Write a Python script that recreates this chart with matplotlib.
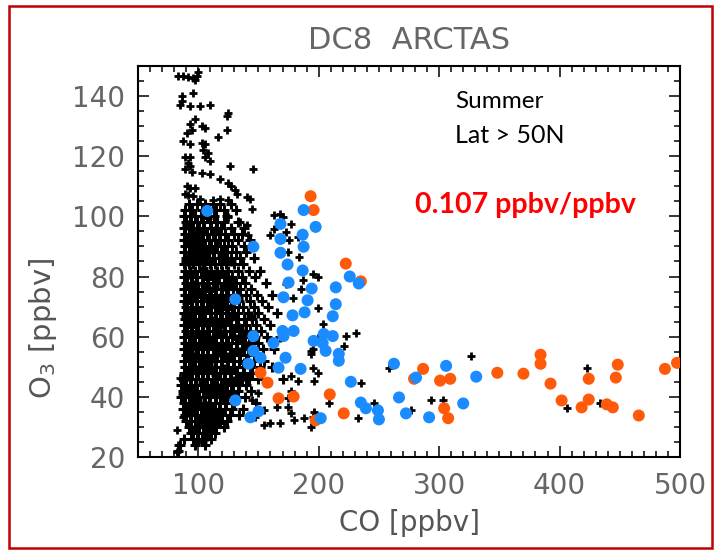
import numpy as np
import matplotlib
matplotlib.use("Agg")
import matplotlib.pyplot as plt
from matplotlib.patches import Rectangle
from matplotlib.ticker import MultipleLocator

# dense core of black points: (O3, list of CO values in that row)
core_rows = [
    (104, [92, 99, 106, 112, 118, 127]),
    (102, [89, 95, 103, 109, 115, 121, 131]),
    (100, [88, 93, 97, 102, 108, 113, 124]),
    (98, [90, 94, 99, 104, 110, 116, 121, 133]),
    (96, [88, 92, 96, 101, 105, 111, 115, 119, 127, 138]),
    (94, [89, 93, 98, 103, 107, 112, 117, 122, 130, 136]),
    (92, [88, 91, 95, 100, 104, 109, 114, 118, 125, 133, 143]),
    (90, [89, 93, 97, 102, 106, 111, 116, 121, 128, 138]),
    (88, [88, 92, 96, 100, 105, 109, 113, 119, 124, 131, 140]),
    (86, [90, 94, 98, 103, 107, 112, 117, 121, 127, 135, 146]),
    (84, [88, 92, 96, 101, 105, 110, 114, 119, 123, 130, 137]),
    (82, [89, 93, 97, 102, 106, 111, 116, 120, 125, 133, 142, 151]),
    (80, [88, 91, 95, 99, 104, 108, 113, 117, 122, 128, 136, 147]),
    (78, [90, 94, 98, 103, 107, 112, 116, 121, 126, 131, 139, 156]),
    (76, [88, 92, 96, 100, 105, 109, 114, 119, 123, 129, 135, 144]),
    (74, [89, 93, 97, 102, 106, 111, 115, 120, 125, 132, 140, 149, 161]),
    (72, [88, 91, 95, 99, 104, 108, 113, 117, 122, 127, 134, 143, 153]),
    (70, [90, 94, 98, 102, 107, 111, 116, 120, 124, 130, 137, 146, 158]),
    (68, [88, 92, 96, 101, 105, 110, 114, 118, 123, 128, 133, 141, 150, 165]),
    (66, [89, 93, 97, 102, 106, 111, 115, 120, 125, 131, 138, 145, 155]),
    (64, [88, 91, 95, 100, 104, 109, 113, 118, 122, 127, 133, 140, 148, 160]),
    (62, [90, 94, 98, 103, 107, 112, 116, 121, 126, 130, 136, 143, 152]),
    (60, [88, 92, 96, 101, 105, 109, 114, 119, 123, 128, 134, 139, 147, 157, 168]),
    (58, [89, 93, 97, 102, 106, 111, 115, 120, 125, 131, 136, 142, 150]),
    (56, [88, 91, 95, 100, 104, 108, 113, 117, 122, 127, 132, 138, 145, 154, 163]),
    (54, [90, 94, 98, 103, 107, 112, 116, 121, 126, 130, 135, 141, 148]),
    (52, [88, 92, 96, 101, 105, 110, 114, 119, 124, 129, 134, 140, 146, 155]),
    (50, [89, 93, 97, 102, 106, 111, 115, 120, 125, 130, 137, 143, 151, 161]),
    (48, [88, 91, 95, 100, 104, 108, 113, 118, 122, 127, 132, 138, 145]),
    (46, [87, 90, 94, 98, 103, 107, 112, 116, 121, 126, 131, 136, 142, 150, 170]),
    (44, [86, 89, 93, 97, 102, 106, 111, 115, 119, 124, 129, 134, 140]),
    (42, [87, 91, 95, 99, 104, 108, 113, 117, 121, 127, 133, 144]),
    (40, [86, 89, 93, 97, 101, 106, 110, 115, 119, 124, 131, 139]),
    (38, [88, 92, 96, 100, 105, 109, 114, 118, 123, 130, 148]),
    (36, [87, 91, 95, 99, 103, 108, 112, 117, 122, 128, 137]),
    (34, [89, 93, 97, 102, 106, 111, 115, 120, 126, 134]),
    (32, [90, 94, 99, 103, 108, 112, 117, 124]),
    (30, [92, 97, 101, 106, 110, 115, 121]),
    (28, [94, 99, 104, 109, 114]),
    (26, [88, 96, 103, 111]),
    (24, [85, 97, 106]),
    (22, [83]),
]

# in-between points of the core, breaking up the rows
core_fill = [
    (91, 97.2), (100, 95.1), (107, 99.3), (95, 91.0), (110, 89.3), (120, 87.1),
    (90, 85.2), (104, 83.0), (116, 81.2), (126, 79.0), (97, 77.1), (110, 75.2),
    (118, 73.0), (91, 71.1), (103, 69.3), (128, 67.0), (113, 65.2), (95, 63.1),
    (120, 61.0), (131, 59.2), (107, 57.1), (92, 55.0), (125, 53.2), (138, 51.1),
    (100, 49.0), (115, 47.1), (129, 45.2), (94, 43.0), (110, 41.1), (121, 39.2),
    (98, 37.0), (113, 35.1), (104, 33.0), (118, 31.2), (96, 29.1), (107, 27.0),
    (134, 63.0), (141, 57.0), (137, 47.0), (127, 85.0), (133, 73.0), (144, 67.0),
    (98, 93.0), (114, 95.0), (102, 87.1), (93, 81.0), (108, 79.1), (121, 77.0),
    (99, 73.1), (114, 71.0), (125, 69.1), (90, 67.0), (106, 65.0), (117, 63.2),
    (100, 61.1), (111, 59.0), (96, 53.1), (117, 55.0), (108, 51.0), (121, 49.1),
    (91, 47.0), (104, 45.0), (117, 43.1), (99, 39.1), (108, 37.0), (92, 35.0),
    (101, 31.1), (111, 29.0), (100, 26.1), (128, 41.0), (135, 55.0), (139, 61.0),
]

# scattered black points outside the core (CO, O3)
black_scatter = [
    (83.3, 146.6), (87.5, 146.6), (91.7, 146.3), (95.8, 145.9), (99.2, 146.6),
    (100, 147.9), (97.5, 145.3), (95.8, 141), (86.7, 140), (86.7, 138.3),
    (85, 137), (93.3, 136.7), (101.7, 136.7), (110, 137), (125, 134.4),
    (124.2, 133.4), (97.5, 132.4), (93.3, 130.8), (95, 128.8), (90.8, 127.8),
    (103.3, 130.1), (105.8, 129.5), (124.2, 128.8), (116.7, 126.5), (87.5, 125.2),
    (93.3, 123.9), (103.3, 124.5), (105.8, 123.9), (104.2, 122.2), (108.3, 121.2),
    (105.8, 119.6), (110, 118.3), (89.2, 119.6), (93.3, 119.6), (91.7, 117.9),
    (93.3, 116.9), (89.2, 115.6), (95, 114.6), (103.3, 114.3), (110, 114),
    (126.7, 116.9), (145.8, 115.6), (118.3, 112.3), (125, 111), (127.5, 110),
    (130.8, 108.7), (132.5, 107.4), (90.8, 110), (93.3, 109.3), (97.5, 109.3),
    (89.2, 107.4), (91.7, 107), (95.8, 106.7), (101.7, 105.7), (112.5, 105.4),
    (118.3, 105.7), (125, 105.4), (140.8, 106.4), (143.3, 105.7),
    (145, 102.4), (162.5, 100.4), (168.3, 98.1), (176.7, 97.5), (162.5, 95.8),
    (160, 93.9), (140.8, 97.2), (141.7, 93.9), (135, 98.1), (125, 99.8),
    (168.3, 100.8), (170, 99.8), (172.5, 94.8), (175, 92.2), (182.5, 93.2),
    (174.2, 88.2), (183.3, 86.6), (199.2, 80), (195, 81), (186.7, 79),
    (172.5, 77.4), (178.3, 72.8), (185, 76), (199.2, 69.5), (203.3, 64.2),
    (222.5, 60.2), (230.8, 61.2), (220.8, 56.9), (199.2, 59.6), (193.3, 55.3),
    (195, 49.7), (199.2, 48), (182.5, 45.4), (176.7, 42.1), (174.2, 39.5),
    (165.8, 36.5), (176.7, 34.5), (187.5, 32.9), (179.2, 32.2), (168.3, 31.2),
    (160, 31.2), (154.2, 30.6), (195, 33.2), (208.3, 38.1), (232.5, 32.9),
    (245.8, 37.8), (276.7, 35.5), (293.3, 38.8), (303.3, 38.8), (326.7, 53.6),
    (258.3, 49.7), (235, 44.7), (422.5, 49.7), (405.8, 36.2), (433.3, 38.1),
    (193.3, 29.9), (195.8, 34.8), (150, 41.4), (145, 38.8), (154.2, 35.5),
    (147.5, 33.2), (174.2, 36.5), (176.7, 47), (195.8, 45.4), (193.3, 54.3),
    (195, 55.9), (201.7, 59.2), (85, 46.4), (86.7, 41.1), (87.5, 33.2),
    (82.5, 28.9), (83.3, 24), (82.5, 21.6), (104.2, 25),
]

blue_pts = [
    (107.5, 101.8), (145.8, 89.9), (168.3, 97.5), (168.3, 92.5), (168.3, 87.9),
    (174.2, 84), (187.5, 102.1), (197.5, 96.5), (186.7, 93.9), (187.5, 89.9),
    (186.7, 82), (175, 78), (170.8, 73.1), (225.8, 80), (233.3, 77.7),
    (214.2, 76.4), (214.2, 70.8), (211.7, 66.8), (194.2, 76), (190.8, 72.1),
    (188.3, 68.1), (178.3, 67.1), (204.2, 60.9), (211.7, 60.2), (205.8, 55.3),
    (216.7, 54.3), (216.7, 52), (203.3, 57.9), (195.8, 58.6), (179.2, 61.9),
    (170.8, 60.2), (162.5, 57.9), (172.5, 53), (166.7, 49.7), (185, 49.3),
    (145.8, 60.2), (145.8, 55.3), (151.7, 53), (141.7, 51), (130.8, 72.4),
    (130.8, 38.8), (143.3, 33.2), (150, 35.2), (226.7, 45), (235, 38.1),
    (239.2, 36.2), (249.2, 35.5), (250, 32.5), (201.7, 32.9), (262.5, 51),
    (280.8, 46.4), (266.7, 39.8), (272.5, 34.5), (291.7, 33.2), (305.8, 50.3),
    (320, 37.8), (330.8, 46.7), (170, 61.9),
]

orange_pts = [
    (193.3, 106.7), (195.8, 102.1), (222.5, 84.3), (235, 78.4), (151.7, 48),
    (157.5, 44.7), (166.7, 39.5), (179.2, 40.1), (209.2, 40.8), (220.8, 34.5),
    (197.5, 32.2), (286.7, 49.3), (279.2, 46), (300.8, 45.4), (309.2, 46),
    (304.2, 36.2), (307.5, 32.9), (348.3, 48), (370, 47.7), (384.2, 54),
    (384.2, 51), (392.5, 44.4), (401.7, 38.8), (418.3, 36.5), (424.2, 39.1),
    (424.2, 46), (439.2, 37.5), (444.2, 36.5), (465.8, 33.8), (448.3, 50.7),
    (446.7, 46.4), (487.5, 49.3), (497.5, 51.3),
]

x_ticks = [100, 200, 300, 400, 500]
y_ticks = [20, 40, 60, 80, 100, 120, 140]

core_co = [c for o3, cos in core_rows for c in cos]
core_o3 = [o3 for o3, cos in core_rows for c in cos]
fill_co, fill_o3 = np.array(core_fill).T
sc_co, sc_o3 = np.array(black_scatter).T
bl_co, bl_o3 = np.array(blue_pts).T
or_co, or_o3 = np.array(orange_pts).T

fig = plt.figure(figsize=(7.18, 5.53), dpi=100)
ax = fig.add_axes([0.1922, 0.1736, 0.7549, 0.7071])

ax.plot(core_co, core_o3, '+', color='k', ms=7, mew=2.2, linestyle='none')
ax.plot(fill_co, fill_o3, '+', color='k', ms=7, mew=2.2, linestyle='none')
ax.plot(sc_co, sc_o3, '+', color='k', ms=6, mew=2.0, linestyle='none')
ax.scatter(or_co, or_o3, s=75, color='#ff5a0a', edgecolors='none', zorder=3)
ax.scatter(bl_co, bl_o3, s=75, color='#1a8cff', edgecolors='none', zorder=4)

ax.set_xlim(50, 500)
ax.set_ylim(20, 150)
ax.set_xticks(x_ticks)
ax.set_yticks(y_ticks)
ax.xaxis.set_minor_locator(MultipleLocator(10))
ax.yaxis.set_minor_locator(MultipleLocator(5))
ax.tick_params(which='both', direction='in', top=True, right=True,
               colors='k', labelcolor='#666', labelsize=20, width=1.1)
ax.tick_params(which='major', length=8)
ax.tick_params(which='minor', length=4)
ax.tick_params(axis='x', which='major', pad=11)
ax.tick_params(axis='y', which='major', pad=9)
for sp in ax.spines.values():
    sp.set_linewidth(1.5)

ax.set_xlabel('CO [ppbv]', fontsize=20, color='#555', labelpad=6)
ax.set_ylabel('O$_3$ [ppbv]', fontsize=21, color='#555')
ax.yaxis.set_label_coords(-0.145, 0.33)
ax.set_title('DC8  ARCTAS', fontsize=22, color='#666', pad=12)

ax.text(0.585, 0.91, 'Summer', transform=ax.transAxes, fontsize=17.5,
        family='Lato', color='k', va='center')
ax.text(0.585, 0.821, 'Lat > 50N', transform=ax.transAxes, fontsize=18,
        family='Lato', color='k', va='center')
ax.text(0.511, 0.645, '0.107 ppbv/ppbv', transform=ax.transAxes, fontsize=20.5,
        family='Lato', fontweight='bold', color='#ff0000', va='center')

fig.patches.append(Rectangle((9 / 718, 1 - 548 / 553), 703 / 718, 542 / 553,
                             transform=fig.transFigure, fill=False,
                             edgecolor='#c00000', linewidth=1.8))

fig.savefig('out.png', dpi=100)
